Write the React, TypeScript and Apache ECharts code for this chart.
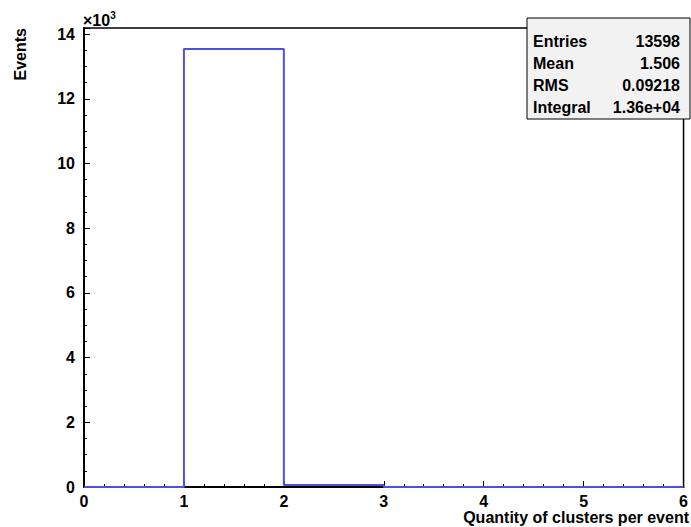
import React, { useEffect, useRef } from "react";
import * as echarts from "echarts";

// Histogram: bin low edges and counts
const binEdges = [0, 1, 2, 3, 4, 5, 6];
const binCounts = [0, 13540, 58, 0, 0, 0];
const yTickLabels = ["0", "2", "4", "6", "8", "10", "12", "14"];
const statNames = ["Entries", "Mean", "RMS", "Integral"];
const statValues = ["13598", "1.506", "0.09218", "1.36e+04"];

const FONT = "'Liberation Sans', Arial, Helvetica, sans-serif";
const LINE = "#5050e0";

export default function App() {
  const ref = useRef<HTMLDivElement>(null);
  useEffect(() => {
    if (!ref.current) return;
    const chart = echarts.init(ref.current, undefined, { renderer: "svg" });
    const data: [number, number][] = binCounts.map((c, i) => [binEdges[i], c]);
    data.push([binEdges[binEdges.length - 1], 0]);

    const statsGraphics: any[] = [
      {
        type: "rect",
        shape: { x: 527, y: 18, width: 163, height: 101 },
        style: { fill: "#f2f2f2", stroke: "#000", lineWidth: 1 },
        z: 10,
      },
    ];
    statNames.forEach((n, i) => {
      const y = 41 + i * 22;
      statsGraphics.push({
        type: "text",
        x: 533,
        y,
        z: 11,
        style: {
          text: n,
          font: `bold 16px ${FONT}`,
          fill: "#000",
          textAlign: "left",
          textVerticalAlign: "middle",
        },
      });
      statsGraphics.push({
        type: "text",
        x: 680,
        y,
        z: 11,
        style: {
          text: statValues[i],
          font: `bold 16px ${FONT}`,
          fill: "#000",
          textAlign: "right",
          textVerticalAlign: "middle",
        },
      });
    });

    chart.setOption({
      animation: false,
      backgroundColor: "#fff",
      grid: {
        left: 84,
        right: 1,
        top: 28,
        bottom: 40,
        show: true,
        borderColor: "#000",
        borderWidth: 1.5,
        backgroundColor: "transparent",
      },
      xAxis: {
        type: "value",
        min: 0,
        max: 6,
        interval: 1,
        axisLine: { show: true, onZero: false, lineStyle: { color: "#000", width: 2 } },
        axisTick: { show: true, inside: true, length: 6, lineStyle: { color: "#000" } },
        minorTick: { show: true, splitNumber: 5, length: 3, lineStyle: { color: "#000" } },
        splitLine: { show: false },
        axisLabel: {
          color: "#000",
          fontFamily: FONT,
          fontWeight: "bold",
          fontSize: 16,
          margin: 6,
        },
      },
      yAxis: {
        type: "value",
        min: 0,
        max: 14190,
        interval: 2000,
        axisLine: { show: true, onZero: false, lineStyle: { color: "#000", width: 2 } },
        axisTick: { show: true, inside: true, length: 6, lineStyle: { color: "#000" } },
        minorTick: { show: true, splitNumber: 4, length: 3, lineStyle: { color: "#000" } },
        splitLine: { show: false },
        axisLabel: {
          color: "#000",
          fontFamily: FONT,
          fontWeight: "bold",
          fontSize: 16,
          margin: 9,
          formatter: (v: number) => {
            const idx = Math.round(v / 2000);
            return Math.abs(v - idx * 2000) < 1e-6 ? yTickLabels[idx] ?? "" : "";
          },
        },
      },
      series: [
        {
          type: "line",
          step: "end",
          data,
          symbol: "none",
          lineStyle: { color: LINE, width: 2 },
          z: 5,
        },
      ],
      graphic: [
        {
          type: "text",
          x: 83,
          y: 20,
          style: {
            text: "{a|×10}{b|3}",
            rich: {
              a: { font: `bold 16px ${FONT}`, fill: "#000" },
              b: { font: `bold 10px ${FONT}`, fill: "#000", verticalAlign: "top", padding: [0, 0, 9, 0] },
            },
            textVerticalAlign: "middle",
          },
        },
        {
          type: "text",
          x: 20,
          y: 28,
          rotation: Math.PI / 2,
          style: {
            text: "Events",
            font: `bold 16px ${FONT}`,
            fill: "#000",
            textAlign: "right",
            textVerticalAlign: "middle",
          },
        },
        {
          type: "text",
          x: 689,
          y: 517,
          style: {
            text: "Quantity of clusters per event",
            font: `bold 16px ${FONT}`,
            fill: "#000",
            textAlign: "right",
            textVerticalAlign: "middle",
          },
        },
        ...statsGraphics,
      ],
    });
    return () => chart.dispose();
  }, []);
  return <div ref={ref} style={{ width: 691, height: 527, position: "absolute", left: 0, top: 0 }} />;
}
